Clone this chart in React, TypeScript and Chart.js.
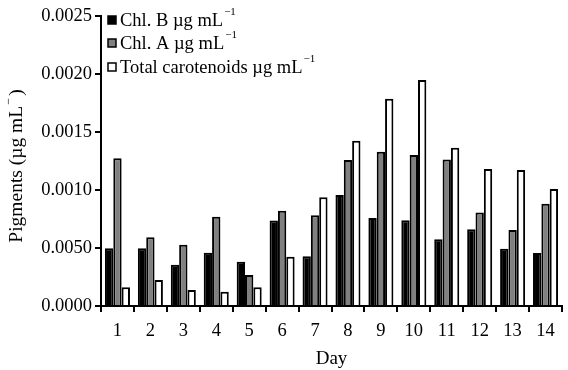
import React, { useEffect, useRef } from "react";
import { Chart, registerables } from "chart.js";

Chart.register(...registerables);

const days = ["1", "2", "3", "4", "5", "6", "7", "8", "9", "10", "11", "12", "13", "14"];
const chlB = [0.000497, 0.000497, 0.000356, 0.00046, 0.000382, 0.000736, 0.000428, 0.000957, 0.000759, 0.000739, 0.000575, 0.000661, 0.000494, 0.000457];
const chlA = [0.001273, 0.000592, 0.000529, 0.00077, 0.000267, 0.000822, 0.000782, 0.001259, 0.00133, 0.001302, 0.001264, 0.000807, 0.000655, 0.000882];
const carot = [0.000161, 0.000224, 0.000138, 0.000123, 0.000161, 0.000425, 0.000937, 0.001425, 0.001787, 0.001948, 0.001365, 0.001181, 0.001172, 0.001009];
const yTickLabels = ["0.0000", "0.0050", "0.0010", "0.0015", "0.0020", "0.0025"];
const seriesNames = ["Chl. B \u00b5g mL", "Chl. A \u00b5g mL", "Total carotenoids \u00b5g mL"];
const seriesColors = ["#000000", "#808080", "#ffffff"];

const FONT = "'Liberation Serif', 'Times New Roman', serif";

const legendPlugin = {
  id: "inlineLegend",
  afterDraw(chart: any) {
    const ctx = chart.ctx;
    const area = chart.chartArea;
    ctx.save();
    const rows = [20, 43, 67];
    seriesNames.forEach((name, i) => {
      const y = rows[i];
      const bx = area.left + 7;
      ctx.fillStyle = seriesColors[i];
      ctx.fillRect(bx, y - 4, 8, 8);
      ctx.strokeStyle = "#000";
      ctx.lineWidth = 1.5;
      ctx.strokeRect(bx, y - 4, 8, 8);
      ctx.fillStyle = "#000";
      ctx.font = `18.5px ${FONT}`;
      ctx.textBaseline = "middle";
      ctx.textAlign = "left";
      const tx = bx + 12;
      ctx.fillText(name, tx, y + 1);
      const w = ctx.measureText(name).width;
      ctx.font = `11px ${FONT}`;
      ctx.fillText("\u22121", tx + w + 1, y - 8);
    });
    // y axis title
    ctx.translate(17, 166);
    ctx.rotate(-Math.PI / 2);
    ctx.font = `19.5px ${FONT}`;
    ctx.textAlign = "left";
    ctx.textBaseline = "middle";
    const t1 = "Pigments (\u00b5g mL";
    const t2 = ")";
    const w1 = ctx.measureText(t1).width;
    const supW = 10;
    const w2 = ctx.measureText(t2).width;
    const total = w1 + supW + w2;
    const x = -total / 2;
    ctx.fillText(t1, x, 0);
    ctx.font = `12px ${FONT}`;
    ctx.fillText("\u2212", x + w1 + 1, -8);
    ctx.font = `19.5px ${FONT}`;
    ctx.fillText(t2, x + w1 + supW, 0);
    ctx.restore();
  },
};

export default function App() {
  const ref = useRef<HTMLCanvasElement>(null);
  useEffect(() => {
    const chart = new Chart(ref.current!, {
      type: "bar",
      data: {
        labels: days,
        datasets: [chlB, chlA, carot].map((d, i) => ({
          label: seriesNames[i],
          data: d,
          backgroundColor: seriesColors[i],
          borderColor: "#000",
          borderWidth: 2,
          categoryPercentage: 0.76,
          barPercentage: 1,
        })),
      },
      options: {
        animation: false,
        responsive: false,
        maintainAspectRatio: false,
        layout: { padding: { top: 16, right: 6, left: 0, bottom: 0 } },
        plugins: { legend: { display: false }, tooltip: { enabled: false } },
        scales: {
          x: {
            grid: { drawOnChartArea: false, drawTicks: true, tickLength: 6, tickColor: "#000", lineWidth: 2, offset: true },
            border: { display: true, color: "#000", width: 2 },
            ticks: { color: "#000", font: { family: FONT, size: 18.5 }, padding: 8, maxRotation: 0, autoSkip: false },
            title: { display: true, text: "Day", color: "#000", font: { family: FONT, size: 19 }, padding: { top: 0, bottom: 0 } },
            afterFit: (s: any) => { s.height = 64; },
          },
          y: {
            min: 0,
            max: 0.0025,
            grid: { drawOnChartArea: false, drawTicks: true, tickLength: 6, tickColor: "#000", lineWidth: 2 },
            border: { display: true, color: "#000", width: 2 },
            ticks: {
              stepSize: 0.0005,
              color: "#000",
              font: { family: FONT, size: 18.5 },
              padding: 3,
              callback: (_v: any, i: number) => yTickLabels[i],
            },
            afterFit: (s: any) => { s.width = 101; },
          },
        },
      },
      plugins: [legendPlugin],
    });
    return () => chart.destroy();
  }, []);
  return (
    <div style={{ position: "fixed", left: 0, top: 0, width: 568, height: 370, background: "#fff" }}>
      <canvas ref={ref} width={568} height={370} style={{ width: 568, height: 370 }} />
    </div>
  );
}
